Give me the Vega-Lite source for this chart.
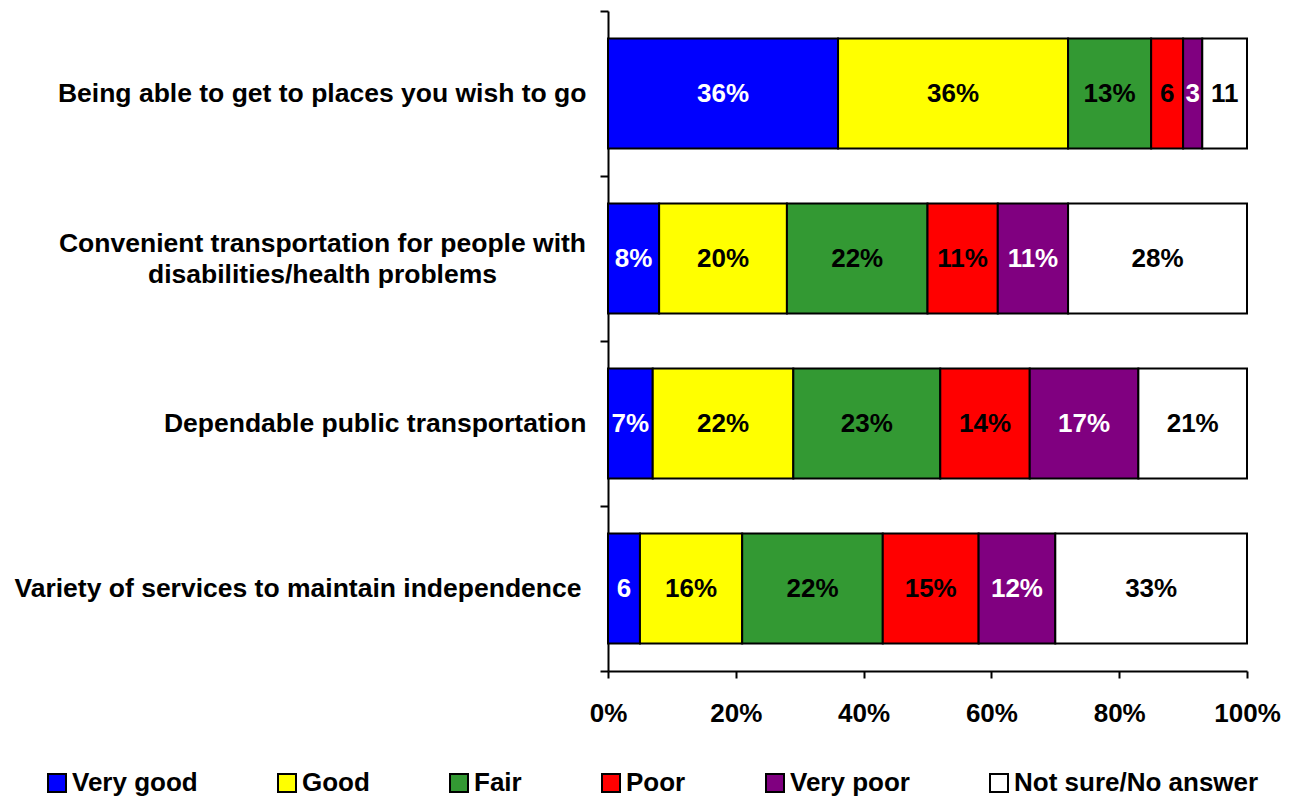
{
  "$schema": "https://vega.github.io/schema/vega-lite/v6.json",
  "width": 639,
  "height": 660,
  "autosize": {"type": "none"},
  "padding": {"left": 608, "top": 11, "right": 47, "bottom": 129},
  "background": "white",
  "config": {
    "view": {"stroke": null},
    "font": "Liberation Sans",
    "text": {"font": "Liberation Sans"}
  },
  "data": {
    "values": [
      {"item": "Being able to get to places you wish to go", "cat": "Very good", "order": 1, "value": 36, "label": "36%"},
      {"item": "Being able to get to places you wish to go", "cat": "Good", "order": 2, "value": 36, "label": "36%"},
      {"item": "Being able to get to places you wish to go", "cat": "Fair", "order": 3, "value": 13, "label": "13%"},
      {"item": "Being able to get to places you wish to go", "cat": "Poor", "order": 4, "value": 5, "label": "6"},
      {"item": "Being able to get to places you wish to go", "cat": "Very poor", "order": 5, "value": 3, "label": "3"},
      {"item": "Being able to get to places you wish to go", "cat": "Not sure/No answer", "order": 6, "value": 7, "label": "11"},
      {"item": "Convenient transportation for people with disabilities/health problems", "cat": "Very good", "order": 1, "value": 8, "label": "8%"},
      {"item": "Convenient transportation for people with disabilities/health problems", "cat": "Good", "order": 2, "value": 20, "label": "20%"},
      {"item": "Convenient transportation for people with disabilities/health problems", "cat": "Fair", "order": 3, "value": 22, "label": "22%"},
      {"item": "Convenient transportation for people with disabilities/health problems", "cat": "Poor", "order": 4, "value": 11, "label": "11%"},
      {"item": "Convenient transportation for people with disabilities/health problems", "cat": "Very poor", "order": 5, "value": 11, "label": "11%"},
      {"item": "Convenient transportation for people with disabilities/health problems", "cat": "Not sure/No answer", "order": 6, "value": 28, "label": "28%"},
      {"item": "Dependable public transportation", "cat": "Very good", "order": 1, "value": 7, "label": "7%"},
      {"item": "Dependable public transportation", "cat": "Good", "order": 2, "value": 22, "label": "22%"},
      {"item": "Dependable public transportation", "cat": "Fair", "order": 3, "value": 23, "label": "23%"},
      {"item": "Dependable public transportation", "cat": "Poor", "order": 4, "value": 14, "label": "14%"},
      {"item": "Dependable public transportation", "cat": "Very poor", "order": 5, "value": 17, "label": "17%"},
      {"item": "Dependable public transportation", "cat": "Not sure/No answer", "order": 6, "value": 17, "label": "21%"},
      {"item": "Variety of services to maintain independence", "cat": "Very good", "order": 1, "value": 5, "label": "6"},
      {"item": "Variety of services to maintain independence", "cat": "Good", "order": 2, "value": 16, "label": "16%"},
      {"item": "Variety of services to maintain independence", "cat": "Fair", "order": 3, "value": 22, "label": "22%"},
      {"item": "Variety of services to maintain independence", "cat": "Poor", "order": 4, "value": 15, "label": "15%"},
      {"item": "Variety of services to maintain independence", "cat": "Very poor", "order": 5, "value": 12, "label": "12%"},
      {"item": "Variety of services to maintain independence", "cat": "Not sure/No answer", "order": 6, "value": 30, "label": "33%"}
    ]
  },
  "transform": [
    {"stack": "value", "groupby": ["item"], "sort": [{"field": "order", "order": "ascending"}], "as": ["v0", "v1"]},
    {"calculate": "(datum.v0 + datum.v1) / 2", "as": "mid"}
  ],
  "encoding": {
    "y": {
      "field": "item",
      "type": "nominal",
      "sort": null,
      "scale": {"paddingInner": 0, "paddingOuter": 0},
      "axis": {
        "title": null,
        "domainColor": "black",
        "domainWidth": 2,
        "tickColor": "black",
        "tickWidth": 2,
        "tickSize": 8,
        "tickBand": "extent",
        "labelFont": "Liberation Sans",
        "labelFontWeight": "bold",
        "labelFontSize": 26.5,
        "labelColor": "black",
        "labelLimit": 800,
        "labelLineHeight": 31,
        "labelAlign": {"condition": {"test": "datum.value == 'Convenient transportation for people with disabilities/health problems'", "value": "center"}, "value": "right"},
        "labelPadding": {"condition": [
          {"test": "datum.value == 'Convenient transportation for people with disabilities/health problems'", "value": 278},
          {"test": "datum.value == 'Variety of services to maintain independence'", "value": 19}
        ], "value": 14},
        "labelOffset": {"condition": {"test": "datum.value == 'Convenient transportation for people with disabilities/health problems'", "value": -15.5}, "value": 0},
        "labelExpr": "datum.label == 'Convenient transportation for people with disabilities/health problems' ? ['Convenient transportation for people with', 'disabilities/health problems'] : datum.label"
      }
    }
  },
  "layer": [
    {
      "mark": {"type": "bar", "stroke": "black", "strokeWidth": 2, "opacity": 1, "height": {"band": 0.6667}},
      "encoding": {
        "x": {
          "field": "v0",
          "type": "quantitative",
          "scale": {"domain": [0, 100], "nice": false},
          "axis": {
            "title": null,
            "values": [0, 20, 40, 60, 80, 100],
            "labelExpr": "datum.value + '%'",
            "grid": false,
            "domainColor": "black",
            "domainWidth": 2,
            "tickColor": "black",
            "tickWidth": 2,
            "tickSize": 7,
            "labelFont": "Liberation Sans",
            "labelFontWeight": "bold",
            "labelFontSize": 26,
            "labelColor": "black",
            "labelPadding": 22,
            "labelFlush": false,
            "labelOverlap": false
          }
        },
        "x2": {"field": "v1"},
        "color": {
          "field": "cat",
          "type": "nominal",
          "scale": {
            "domain": ["Very good", "Good", "Fair", "Poor", "Very poor", "Not sure/No answer"],
            "range": ["#0000FF", "#FFFF00", "#339933", "#FF0000", "#800080", "#FFFFFF"]
          },
          "legend": {
            "title": null,
            "orient": "none",
            "legendX": -564,
            "legendY": 759,
            "direction": "horizontal",
            "columns": 6,
            "columnPadding": 76,
            "symbolType": "square",
            "symbolSize": 324,
            "symbolStrokeColor": "black",
            "symbolStrokeWidth": 2,
            "symbolOpacity": 1,
            "labelFont": "Liberation Sans",
            "labelFontWeight": "bold",
            "labelFontSize": 26,
            "labelColor": "black",
            "labelOffset": 2,
            "labelLimit": 400
          }
        }
      }
    },
    {
      "mark": {"type": "text", "fontSize": 26, "fontWeight": "bold", "align": "center", "baseline": "middle", "font": "Liberation Sans"},
      "encoding": {
        "x": {"field": "mid", "type": "quantitative"},
        "text": {"field": "label"},
        "color": {
          "condition": {"test": "datum.cat === 'Very good' || datum.cat === 'Very poor'", "value": "white"},
          "value": "black"
        }
      }
    }
  ]
}
